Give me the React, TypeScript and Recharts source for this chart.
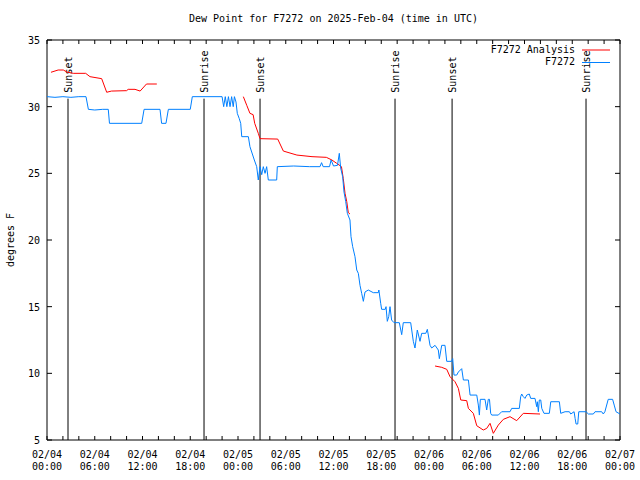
import { Legend, Line, LineChart, ReferenceArea, ReferenceLine, XAxis, YAxis } from "recharts";

const FONT = "'DejaVu Sans Mono', 'Liberation Mono', monospace";
const PLOT = { left: 47, right: 620, top: 40, bottom: 440 };

// x = hours since 2025-02-04 00:00 UTC, y = dew point (F)
const stationObs: [number, number][] = [
  [0, 30.75], [1.0, 30.7], [2.0, 30.75], [3.0, 30.7], [4.0, 30.75], [4.9, 30.75],
  [5.2, 29.8], [6.0, 29.75], [7.0, 29.8], [7.7, 29.8], [7.85, 28.75], [11.9, 28.75],
  [12.2, 29.8], [14.2, 29.8], [14.4, 28.75], [14.95, 28.75], [15.25, 29.8], [18.0, 29.8],
  [18.26, 30.75], [22.0, 30.75], [22.2, 30.0], [22.4, 30.75], [22.6, 30.0], [22.8, 30.75],
  [23.0, 30.0], [23.2, 30.75], [23.4, 30.0], [23.55, 30.75], [23.75, 30.35], [23.91, 29.5],
  [24.16, 29.1], [24.34, 28.75], [24.47, 27.75], [25.3, 27.75], [25.5, 27.0], [25.72, 26.6],
  [26.05, 26.0], [26.35, 25.5], [26.55, 24.5], [26.77, 25.5], [26.98, 24.9], [27.18, 25.5],
  [27.4, 25.0], [27.6, 25.5], [27.81, 24.5], [28.86, 24.5], [28.94, 25.5], [31.0, 25.55],
  [33.0, 25.5], [34.3, 25.5], [34.5, 25.8], [34.7, 25.5], [35.5, 25.5], [35.7, 26.0],
  [36.0, 25.55], [36.5, 25.6], [36.73, 26.5], [36.9, 25.4], [37.15, 24.75], [37.32, 23.6],
  [37.53, 22.9], [37.74, 22.0], [38.07, 21.5], [38.2, 20.25], [38.41, 19.5], [38.7, 18.75],
  [38.92, 17.75], [39.12, 17.5], [39.33, 16.6], [39.54, 16.0], [39.75, 15.4], [39.96, 16.1],
  [40.37, 16.25], [41.0, 16.05], [41.63, 16.05], [41.7, 16.25], [41.93, 15.25], [42.05, 14.8],
  [42.5, 14.8], [42.6, 15.0], [42.76, 13.9], [42.94, 14.25], [43.1, 15.0], [43.3, 14.0],
  [43.6, 13.8], [44.27, 13.8], [44.57, 12.9], [44.77, 13.8], [45.7, 13.8], [46.03, 12.4],
  [46.24, 11.9], [46.53, 13.25], [46.87, 12.4], [47.08, 13.0], [47.6, 13.0], [47.79, 13.3],
  [48.13, 12.1], [48.34, 11.9], [48.76, 12.1], [49.17, 11.75], [49.3, 11.1], [49.6, 12.1],
  [50.01, 12.1], [50.23, 10.9], [50.85, 10.9], [50.98, 11.1], [51.14, 9.87], [51.48, 9.87],
  [51.69, 10.1], [52.11, 10.35], [52.32, 9.5], [52.95, 9.5], [53.16, 8.37], [54.0, 8.37],
  [54.2, 7.62], [54.33, 6.87], [54.45, 8.05], [55.04, 8.05], [55.25, 7.25], [55.45, 8.05],
  [55.6, 8.05], [55.75, 7.0], [55.88, 6.87], [56.71, 6.87], [57.13, 7.12], [58.18, 7.12],
  [58.39, 7.37], [59.35, 7.37], [59.52, 8.25], [59.65, 8.45], [59.85, 8.25], [60.06, 8.12],
  [60.28, 8.37], [60.6, 8.45], [60.78, 8.12], [61.32, 8.12], [61.53, 7.5], [61.61, 7.87],
  [61.74, 7.12], [61.86, 8.0], [62.04, 8.0], [62.17, 7.37], [62.45, 7.0], [63.12, 7.0],
  [63.3, 7.87], [64.38, 7.87], [64.55, 7.0], [65.1, 7.12], [65.64, 7.12], [65.81, 6.95],
  [66.23, 7.12], [66.36, 6.62], [66.48, 6.2], [66.69, 6.2], [66.82, 7.12], [67.74, 7.12],
  [68.03, 6.95], [68.65, 6.95], [68.86, 7.12], [69.7, 7.12], [69.9, 6.95], [70.1, 7.12],
  [70.52, 8.05], [71.07, 8.05], [71.27, 7.62], [71.5, 7.12], [72.0, 6.95],
];

const analysisRun1: [number, number][] = [
  [0.5, 32.58], [1.4, 32.75], [2.05, 32.75], [2.5, 32.6], [3.3, 32.5], [4.86, 32.5],
  [5.4, 32.25], [6.87, 32.1], [7.5, 31.08], [8.1, 31.17], [10.0, 31.2], [10.2, 31.3],
  [11.06, 31.3], [11.7, 31.17], [12.5, 31.7], [13.8, 31.7],
];
const analysisRun2: [number, number][] = [
  [24.67, 30.75], [25.1, 30.1], [25.5, 29.5], [25.9, 29.4], [26.1, 28.75], [26.55, 28.0],
  [26.77, 27.6], [28.99, 27.57], [29.7, 26.67], [31.4, 26.37], [33.3, 26.25], [35.1, 26.2],
  [35.8, 26.0], [36.4, 25.75], [37.0, 25.5], [37.23, 24.6], [37.45, 23.5], [37.66, 22.9],
  [37.86, 22.05], [38.07, 21.95],
];
const analysisRun3: [number, number][] = [
  [48.76, 10.55], [49.6, 10.45], [50.23, 10.3], [50.64, 9.75], [51.27, 9.37], [51.69, 8.87],
  [51.99, 8.0], [52.74, 7.95], [52.95, 7.37], [53.57, 7.0], [54.0, 6.07], [54.82, 5.75],
  [55.25, 5.87], [55.67, 6.25], [56.08, 5.5], [56.71, 6.12], [57.34, 6.55], [58.18, 6.75],
  [59.02, 6.45], [59.85, 7.0], [61.95, 6.95],
];

const sunHours = [2.64, 19.73, 26.77, 43.73, 50.9, 67.73];
const sunLabels = ["Sunset", "Sunrise", "Sunset", "Sunrise", "Sunset", "Sunrise"];

const hourTicks = [0, 2, 4, 6, 8, 10, 12, 14, 16, 18, 20, 22, 24, 26, 28, 30, 32, 34, 36, 38, 40, 42, 44, 46, 48, 50, 52, 54, 56, 58, 60, 62, 64, 66, 68, 70, 72];
const labelHours = [0, 6, 12, 18, 24, 30, 36, 42, 48, 54, 60, 66, 72];
const dayLabels = ["02/04", "02/04", "02/04", "02/04", "02/05", "02/05", "02/05", "02/05", "02/06", "02/06", "02/06", "02/06", "02/07"];
const timeLabels = ["00:00", "06:00", "12:00", "18:00", "00:00", "06:00", "12:00", "18:00", "00:00", "06:00", "12:00", "18:00", "00:00"];
const dewTicks = [5, 10, 15, 20, 25, 30, 35];
const keyOrder = ["F7272 Analysis", "F7272"];

const toRows = (pts: [number, number][]) => pts.map(([h, v]) => ({ h, v }));
const stationData = toRows(stationObs);
const analysisData = [
  ...toRows(analysisRun1),
  { h: 19, v: null },
  ...toRows(analysisRun2),
  { h: 43, v: null },
  ...toRows(analysisRun3),
];

function HourTick({ x, payload }: any) {
  const i = labelHours.indexOf(payload.value);
  return (
    <g>
      <line x1={x} x2={x} y1={PLOT.bottom} y2={PLOT.bottom - 4} stroke="#000" />
      <line x1={x} x2={x} y1={PLOT.top} y2={PLOT.top + 4} stroke="#000" />
      {i >= 0 && (
        <text x={x} y={PLOT.bottom + 18} textAnchor="middle" fontFamily={FONT} fontSize={10} fill="#000">
          {dayLabels[i]}
        </text>
      )}
      {i >= 0 && (
        <text x={x} y={PLOT.bottom + 30} textAnchor="middle" fontFamily={FONT} fontSize={10} fill="#000">
          {timeLabels[i]}
        </text>
      )}
    </g>
  );
}

function DewTick({ y, payload }: any) {
  return (
    <g>
      <line x1={PLOT.left} x2={PLOT.left + 5} y1={y} y2={y} stroke="#000" />
      <line x1={PLOT.right} x2={PLOT.right - 5} y1={y} y2={y} stroke="#000" />
      <text x={PLOT.left - 7} y={y} dy={4} textAnchor="end" fontFamily={FONT} fontSize={10} fill="#000">
        {payload.value}
      </text>
    </g>
  );
}

function SunLabel({ viewBox, text }: any) {
  const tx = viewBox.x + 4;
  const ty = viewBox.y - 6;
  return (
    <text
      x={tx}
      y={ty}
      transform={`rotate(-90, ${tx}, ${ty})`}
      textAnchor="start"
      fontFamily={FONT}
      fontSize={10}
      fill="#000"
    >
      {text}
    </text>
  );
}

function KeyBox({ payload }: any) {
  const entries = keyOrder
    .map((name) => (payload || []).find((p: any) => p.value === name))
    .filter(Boolean);
  return (
    <svg width={180} height={30}>
      {entries.map((p: any, i: number) => (
        <g key={p.value}>
          <text x={135} y={12 + i * 12} textAnchor="end" fontFamily={FONT} fontSize={10} fill="#000">
            {p.value}
          </text>
          <line x1={142} x2={170} y1={9 + i * 12.5} y2={9 + i * 12.5} stroke={p.color} />
        </g>
      ))}
    </svg>
  );
}

export default function App() {
  return (
    <div style={{ position: "absolute", left: 0, top: 0, width: 640, height: 480, background: "#fff" }}>
      <div
        style={{
          position: "absolute",
          left: 0,
          width: 667,
          top: 13,
          textAlign: "center",
          fontFamily: FONT,
          fontSize: 10,
          lineHeight: "12px",
          color: "#000",
        }}
      >
        Dew Point for F7272 on 2025-Feb-04 (time in UTC)
      </div>
      <LineChart width={640} height={480} margin={{ top: 40, right: 20, bottom: 0, left: 0 }}>
        <XAxis
          type="number"
          dataKey="h"
          domain={[0, 72]}
          ticks={hourTicks}
          interval={0}
          tick={<HourTick />}
          tickLine={false}
          axisLine={false}
          height={40}
          allowDataOverflow
        />
        <YAxis
          type="number"
          domain={[5, 35]}
          ticks={dewTicks}
          interval={0}
          tick={<DewTick />}
          tickLine={false}
          axisLine={false}
          width={47}
          allowDataOverflow
          label={{
            content: () => (
              <text
                x={14}
                y={240}
                transform="rotate(-90, 14, 240)"
                textAnchor="middle"
                fontFamily={FONT}
                fontSize={10}
                fill="#000"
              >
                degrees F
              </text>
            ),
          }}
        />
        <ReferenceArea x1={0} x2={72} y1={5} y2={35} fill="none" stroke="#000" strokeWidth={1} />
        {sunHours.map((h, i) => (
          <ReferenceLine
            key={h}
            segment={[{ x: h, y: 30.6 }, { x: h, y: 5 }]}
            stroke="#000"
            strokeWidth={1}
            label={(props: any) => <SunLabel viewBox={props.viewBox} text={sunLabels[i]} />}
          />
        ))}
        <Line
          data={analysisData}
          dataKey="v"
          name="F7272 Analysis"
          type="linear"
          stroke="#ff0000"
          strokeWidth={1}
          dot={false}
          connectNulls={false}
          isAnimationActive={false}
        />
        <Line
          data={stationData}
          dataKey="v"
          name="F7272"
          type="linear"
          stroke="#0080ff"
          strokeWidth={1}
          dot={false}
          isAnimationActive={false}
        />
        <Legend
          layout="horizontal"
          verticalAlign="middle"
          align="center"
          content={<KeyBox />}
          wrapperStyle={{ top: 41, left: 440, width: 180, height: 30 }}
        />
      </LineChart>
    </div>
  );
}
